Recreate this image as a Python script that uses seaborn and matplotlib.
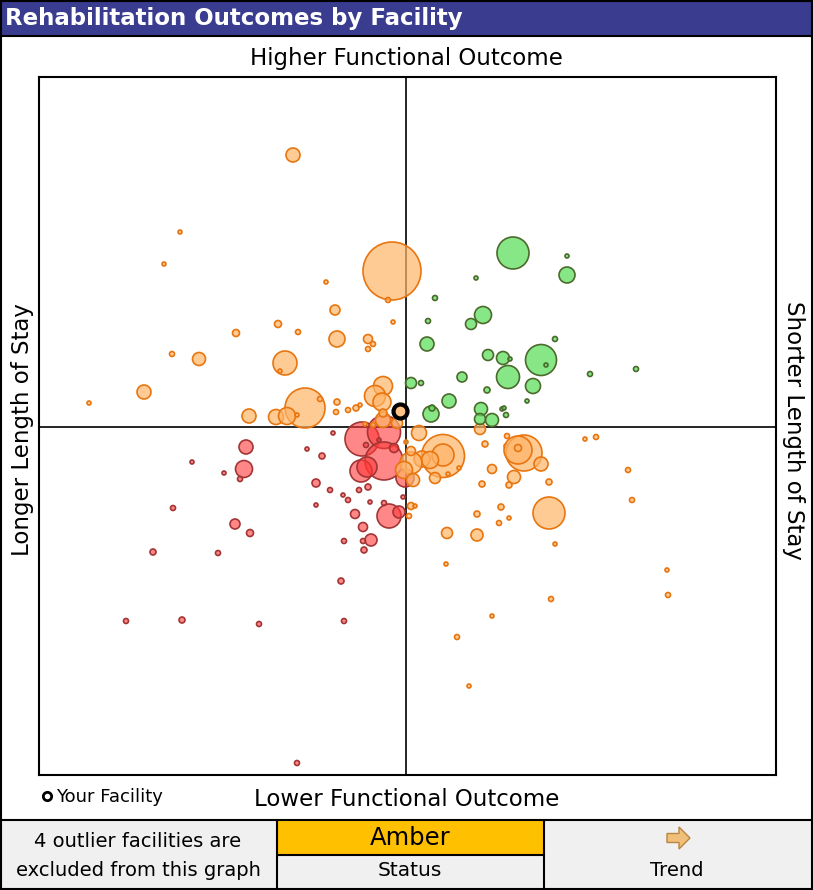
import numpy as np
import pandas as pd
import matplotlib
matplotlib.use("Agg")
import matplotlib.pyplot as plt
import matplotlib.patches as mpatches
from matplotlib.lines import Line2D
import seaborn as sns

# los = length-of-stay index (right = shorter stay), outcome = functional outcome index (up = higher)
# d = bubble diameter (facility volume), in pixels of the original chart
green_los = [107, 161, 161, 70, 29, 77, 65, 22, 21, 82, 97, 104, 135, 140, 149, 102, 56, 5, 15, 127,
             81, 184, 230, 121, 43, 25, 26, 75, 74, 86, 96, 98, 100]
green_outcome = [174, 171, 152, 149, 129, 112, 103, 106, 83, 72, 69, 68, 67, 62, 88, 50, 50, 44, 44, 41,
                 37, 53, 58, 26, 26, 13, 19, 18, 8, 7, 18, 19, 12]
green_d = [32, 4, 16, 4, 5, 17, 11, 5, 14, 11, 13, 4, 31, 4, 5, 23, 10, 11, 5, 15,
           6, 5, 5, 4, 14, 16, 6, 13, 11, 13, 4, 4, 5]

amber_los = [-113, -226, -242, -80, -14, -18, -71, -13, -128, -108, -170, -69, -38, -33, -38, -234, -207,
             -121, -126, -262, -317, -23, -31, -24, -101, -86, -69, -70, -58, -50, -46, -157, -130, -119,
             -109, -23, -33, -9, -41, -23,
             13, 74, 37, 37, 16, 24, 5, -2, 7, 29, 42, 53, 79, 101, 100, 118, 112, 112, 135, 86, 108, 103,
             143, 76, 179, 190, 222, 226, 143, 5, 9, 3, 71, 95, 103, 93, 41, 71, 149, 40, 261, 262, 145,
             86, 51, 63, 5, 0]
amber_outcome = [272, 195, 163, 145, 156, 127, 117, 105, 103, 95, 94, 88, 88, 83, 78, 73, 68,
                 64, 56, 35, 24, 41, 31, 25, 19, 28, 25, 15, 17, 19, 22, 11, 10, 11,
                 12, 7, 2, 4, 3, 14,
                 -6, -2, -29, -28, -32, -33, -36, -43, -53, -51, -47, -41, -17, -9, -19, -26, -23, -21, -37,
                 -42, -50, -58, -55, -57, -12, -10, -43, -73, -86, -79, -79, -89, -87, -80, -91, -96, -106,
                 -108, -117, -137, -143, -168, -172, -189, -210, -259, -24, -15]
amber_d = [14, 4, 4, 4, 58, 5, 10, 4, 7, 5, 7, 16, 9, 5, 5, 5, 13,
           24, 4, 14, 4, 19, 21, 18, 40, 5, 6, 5, 5, 6, 4, 14, 15, 17,
           4, 15, 5, 11, 4, 8,
           15, 11, 43, 22, 16, 17, 22, 17, 13, 11, 4, 4, 6, 5, 4, 36, 28, 7, 14, 9, 13, 6,
           6, 6, 4, 5, 5, 5, 32, 7, 4, 5, 6, 6, 4, 5, 11, 12, 4, 4, 4, 5, 5,
           4, 5, 4, 9, 4]

red_los = [-44, -22, -22, -45, -39, -1, -12, -27, -40, -17, -7, -51, -43, -73, -99, -84, -90, -76, -90,
           -63, -58, -47, -38, -36, -35, -62, -43, -42, -22, -3, -160, -162, -166, -214, -182, -233,
           -171, -156, -253, -188, -65, -280, -224, -147, -62, -109]
red_outcome = [-12, -5, -34, -44, -40, -51, -21, -13, -18, -89, -85, -87, -100, -6, -22, -29, -56, -63,
               -78, -68, -73, -63, -60, -75, -113, -114, -114, -123, -76, -70, -20, -42, -52, -35, -46,
               -81, -97, -106, -125, -126, -154, -194, -193, -197, -194, -336]
red_d = [34, 33, 38, 22, 20, 18, 9, 4, 5, 24, 12, 9, 9, 4, 4, 6, 8, 5, 4,
         4, 5, 5, 6, 4, 12, 5, 5, 6, 5, 4, 14, 17, 5, 4, 4, 5,
         10, 7, 6, 5, 6, 5, 6, 5, 5, 5]

my_los = [-6]
my_outcome = [16]
my_d = [14]

status_text = "Amber"
outlier_note = "4 outlier facilities are\nexcluded from this graph"

W, H = 813, 890
PX = 72 / 100  # points per pixel at dpi 100


def frame(los, outcome, d):
    df = pd.DataFrame({"los": los, "outcome": outcome, "d": d})
    df["area"] = (df["d"] * PX) ** 2
    return df


red_df = frame(red_los, red_outcome, red_d)
amber_df = frame(amber_los, amber_outcome, amber_d)
green_df = frame(green_los, green_outcome, green_d)
my_df = frame(my_los, my_outcome, my_d)

all_area = pd.concat([red_df, amber_df, green_df, my_df])["area"]
amin, amax = all_area.min(), all_area.max()

sns.set_style("white")
plt.rcParams["font.family"] = ["DejaVu Sans"]
plt.rcParams["text.color"] = "black"

fig = plt.figure(figsize=(W / 100, H / 100), dpi=100)
fig.patch.set_facecolor("white")

# background layer in pixel coordinates
bg = fig.add_axes([0, 0, 1, 1], zorder=0)
bg.set_xlim(0, W)
bg.set_ylim(H, 0)
bg.axis("off")

bg.add_patch(mpatches.Rectangle((0, 0), W, 36, facecolor="#393c8f", edgecolor="black", lw=1.5))
bg.text(5, 19, "Rehabilitation Outcomes by Facility", color="white", fontsize=16.5,
        fontweight="bold", va="center", ha="left")

# bottom status panel
bg.add_patch(mpatches.Rectangle((0, 820), W, 69, facecolor="#f0f0f0", edgecolor="none"))
bg.add_patch(mpatches.Rectangle((277, 821), 267, 33, facecolor="#ffc000", edgecolor="none"))
bg.plot([0, W], [820, 820], color="black", lw=1.5)
bg.plot([276.5, 276.5], [820, 889], color="black", lw=1.5)
bg.plot([544, 544], [820, 889], color="black", lw=1.5)
bg.plot([276.5, 544], [854.5, 854.5], color="black", lw=1.5)
bg.add_patch(mpatches.Rectangle((0.75, 0.75), W - 1.5, H - 1.5, fill=False, edgecolor="black", lw=1.5))

bg.text(138, 856, outlier_note, ha="center", va="center", fontsize=14, linespacing=1.7)
bg.text(410, 838, status_text, ha="center", va="center", fontsize=17.5)
bg.text(410, 871, "Status", ha="center", va="center", fontsize=14.5)
bg.text(677, 871, "Trend", ha="center", va="center", fontsize=14)
arrow = np.array([[-11, -4.5], [1, -4.5], [1, -11], [12, 0], [1, 11], [1, 4.5], [-11, 4.5]])
bg.add_patch(mpatches.Polygon(arrow + [678, 838], closed=True, facecolor="#f0c07a",
                              edgecolor="#b98540", lw=1))

# quadrant labels
bg.text(406, 59, "Higher Functional Outcome", ha="center", va="center", fontsize=16.5)
bg.text(407, 799, "Lower Functional Outcome", ha="center", va="center", fontsize=16.5)
bg.text(22, 430, "Longer Length of Stay", ha="center", va="center", fontsize=16.5, rotation=90)
bg.text(793, 430, "Shorter Length of Stay", ha="center", va="center", fontsize=16.5, rotation=-90)

# main bubble chart
ax = fig.add_axes([39 / W, 1 - 775 / H, 737 / W, 698 / H], zorder=1)
ax.set_xlim(-367, 370)
ax.set_ylim(-348, 350)

groups = [
    (red_df, (1.0, 0.22, 0.22, 0.6), "#a33535", 2),
    (amber_df, (1.0, 0.71, 0.41, 0.7), "#e8750f", 3),
    (green_df, (0.33, 0.87, 0.33, 0.7), "#4b6a2b", 4),
]
for df, face, edge, z in groups:
    sns.scatterplot(data=df, x="los", y="outcome", size="area", sizes=(amin, amax),
                    size_norm=(amin, amax), legend=False, ax=ax, linewidth=1.2, zorder=z)
    coll = ax.collections[-1]
    coll.set_facecolor(face)
    coll.set_edgecolor(edge)

sns.scatterplot(data=my_df, x="los", y="outcome", size="area", sizes=(amin, amax),
                size_norm=(amin, amax), legend=False, ax=ax, linewidth=3, zorder=5)
ax.collections[-1].set_facecolor((1.0, 0.71, 0.41, 0.8))
ax.collections[-1].set_edgecolor("black")

ax.axvline(0, color="black", lw=1.2, zorder=1)
ax.axhline(0, color="black", lw=1.2, zorder=1)
ax.set_xticks([])
ax.set_yticks([])
ax.set_xlabel("")
ax.set_ylabel("")
for sp in ax.spines.values():
    sp.set_visible(True)
    sp.set_color("black")
    sp.set_linewidth(1.5)

handle = Line2D([], [], marker="o", linestyle="none", markersize=6, markerfacecolor="white",
                markeredgecolor="black", markeredgewidth=2)
fig.legend(handles=[handle], labels=["Your Facility"], loc="center left",
           bbox_to_anchor=(31 / W, 1 - 797 / H), frameon=False, fontsize=13,
           handletextpad=0.0, handlelength=1.0, borderaxespad=0)

fig.savefig("out.png", dpi=100)
